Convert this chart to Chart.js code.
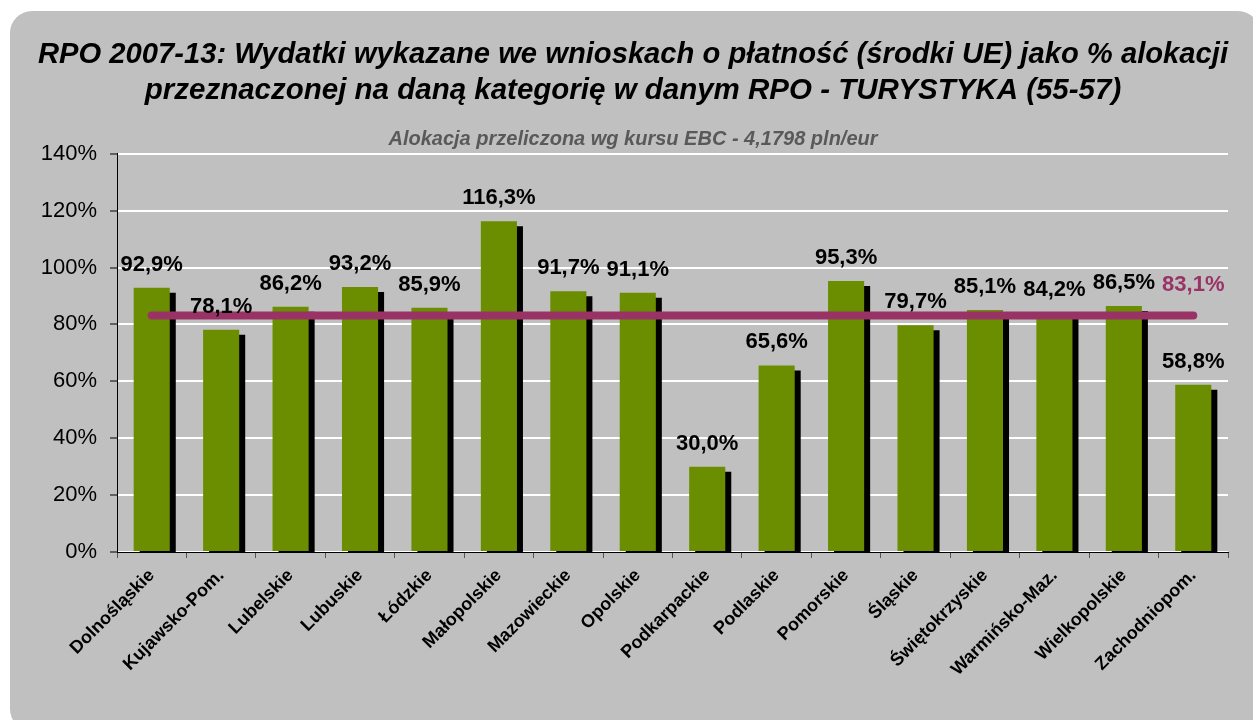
<!DOCTYPE html>
<html>
<head>
<meta charset="utf-8">
<script src="https://cdn.jsdelivr.net/npm/chart.js@4/dist/chart.umd.min.js"></script>
<style>
  html, body { margin: 0; padding: 0; background: #ffffff; }
  #panel { position: absolute; left: 10px; top: 11px; width: 1250px; height: 720px;
           background: #c0c0c0; border-radius: 22px; }
  #wrap { position: absolute; left: 0; top: 0; width: 1253px; height: 720px; }
</style>
</head>
<body>
<div id="panel"></div>
<div id="wrap"><canvas id="c" width="1253" height="720"></canvas></div>
<script>
// ---- data ----
const categories = ['Dolnośląskie', 'Kujawsko-Pom.', 'Lubelskie', 'Lubuskie', 'Łódzkie', 'Małopolskie',
  'Mazowieckie', 'Opolskie', 'Podkarpackie', 'Podlaskie', 'Pomorskie', 'Śląskie',
  'Świętokrzyskie', 'Warmińsko-Maz.', 'Wielkopolskie', 'Zachodniopom.'];
const values = [92.9, 78.1, 86.2, 93.2, 85.9, 116.3, 91.7, 91.1, 30.0, 65.6, 95.3, 79.7, 85.1, 84.2, 86.5, 58.8];
const average = 83.1;
const averageSeries = categories.map(() => average);
const yTicks = [0, 20, 40, 60, 80, 100, 120, 140];
const titleLines = ['RPO 2007-13: Wydatki wykazane we wnioskach o płatność (środki UE) jako % alokacji',
  'przeznaczonej na daną kategorię w danym RPO - TURYSTYKA (55-57)'];
const subtitleText = 'Alokacja przeliczona wg kursu EBC - 4,1798 pln/eur';

const fmt = v => v.toFixed(1).replace('.', ',') + '%';
const FONT = '"Liberation Sans", Arial, sans-serif';

const barShadow = {
  id: 'barShadow',
  beforeDatasetDraw(chart, args) {
    if (args.meta.type !== 'bar') return;
    const ctx = chart.ctx;
    ctx.save();
    ctx.shadowColor = '#000000';
    ctx.shadowBlur = 0;
    ctx.shadowOffsetX = 6;
    ctx.shadowOffsetY = 5;
  },
  afterDatasetDraw(chart, args) {
    if (args.meta.type !== 'bar') return;
    chart.ctx.restore();
  }
};

const valueLabels = {
  id: 'valueLabels',
  afterDatasetsDraw(chart) {
    const ctx = chart.ctx;
    ctx.save();
    ctx.textAlign = 'center';
    ctx.textBaseline = 'middle';
    chart.data.datasets.forEach((ds, di) => {
      const meta = chart.getDatasetMeta(di);
      if (meta.type === 'bar') {
        ctx.font = 'bold 22px ' + FONT;
        ctx.fillStyle = '#000000';
        meta.data.forEach((el, i) => {
          ctx.fillText(fmt(ds.data[i]), el.x, el.y - 23);
        });
      } else {
        const last = meta.data[meta.data.length - 1];
        ctx.font = 'bold 22px ' + FONT;
        ctx.fillStyle = '#993366';
        ctx.fillText(fmt(ds.data[ds.data.length - 1]), last.x, last.y - 31);
      }
    });
    ctx.restore();
  }
};

new Chart(document.getElementById('c'), {
  data: {
    labels: categories,
    datasets: [
      {
        type: 'line',
        label: 'Średnia',
        data: averageSeries,
        borderColor: '#993366',
        borderWidth: 8,
        borderCapStyle: 'round',
        pointRadius: 0,
        order: 0
      },
      {
        type: 'bar',
        label: 'RPO',
        data: values,
        backgroundColor: '#6b8e00',
        borderWidth: 0,
        barPercentage: 0.52,
        categoryPercentage: 1.0,
        order: 1
      }
    ]
  },
  options: {
    responsive: false,
    animation: false,
    layout: { padding: { left: 38, right: 25, top: 0, bottom: 0 } },
    plugins: {
      legend: { display: false },
      tooltip: { enabled: false },
      title: {
        display: true,
        text: titleLines,
        color: '#000000',
        font: { family: FONT, size: 29.5, weight: 'bold', style: 'italic', lineHeight: 1.25 },
        padding: { top: 36, bottom: 19 }
      },
      subtitle: {
        display: true,
        text: subtitleText,
        color: '#595959',
        font: { family: FONT, size: 20, weight: 'bold', style: 'italic', lineHeight: 1.1 },
        padding: { top: 0, bottom: 3 }
      }
    },
    scales: {
      x: {
        offset: true,
        grid: { display: true, drawOnChartArea: false, offset: true, tickLength: 6, tickColor: '#555555' },
        border: { color: '#000000', width: 1 },
        ticks: {
          autoSkip: false, minRotation: 45, maxRotation: 45,
          color: '#000000', padding: 7,
          font: { family: FONT, size: 18, weight: 'bold' }
        },
        afterFit(scale) { scale.height = 168; }
      },
      y: {
        min: 0, max: 140,
        afterBuildTicks(scale) { scale.ticks = yTicks.map(v => ({ value: v })); },
        grid: { color: '#ffffff', lineWidth: 2, tickLength: 7, tickColor: '#000000', tickWidth: 1 },
        border: { color: '#000000', width: 1 },
        ticks: {
          color: '#000000', padding: 13,
          font: { family: FONT, size: 22 },
          callback: v => v + '%'
        },
        afterFit(scale) { scale.width = 79; }
      }
    }
  },
  plugins: [barShadow, valueLabels]
});
</script>
</body>
</html>
